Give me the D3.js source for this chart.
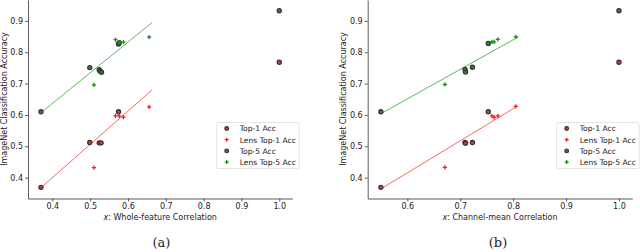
<!DOCTYPE html>
<html>
<head>
<meta charset="utf-8">
<script src="https://cdn.jsdelivr.net/npm/d3@7"></script>
<style>
  body { margin: 0; background: #fff; }
  svg { display: block; font-family: "DejaVu Sans", sans-serif; }
</style>
</head>
<body>
<script>
// panel (a): whole-feature correlation
var top1A = [[0.37, 0.369], [0.499, 0.512], [0.524, 0.511], [0.529, 0.511], [0.575, 0.610], [1.0, 0.768]];
var top5A = [[0.37, 0.610], [0.499, 0.751], [0.524, 0.744], [0.526, 0.740], [0.530, 0.736], [0.575, 0.826], [0.577, 0.830], [1.0, 0.932]];
var lens1A = [[0.510, 0.432], [0.567, 0.597], [0.577, 0.597], [0.588, 0.593], [0.656, 0.626]];
var lens5A = [[0.510, 0.696], [0.567, 0.840], [0.577, 0.831], [0.588, 0.832], [0.656, 0.848]];
var fit1A = [[0.37, 0.368], [0.663, 0.679]];
var fit5A = [[0.37, 0.607], [0.663, 0.894]];

// panel (b): channel-mean correlation
var top1B = [[0.55, 0.369], [0.709, 0.512], [0.710, 0.510], [0.723, 0.512], [0.753, 0.610], [1.0, 0.768]];
var top5B = [[0.55, 0.610], [0.709, 0.745], [0.710, 0.737], [0.723, 0.752], [0.753, 0.828], [1.0, 0.932]];
var lens1B = [[0.671, 0.433], [0.760, 0.597], [0.764, 0.592], [0.771, 0.597], [0.805, 0.627]];
var lens5B = [[0.671, 0.697], [0.760, 0.833], [0.764, 0.833], [0.771, 0.841], [0.805, 0.849]];
var fit1B = [[0.55, 0.364], [0.808, 0.628]];
var fit5B = [[0.55, 0.604], [0.810, 0.849]];

var yTicks = [0.4, 0.5, 0.6, 0.7, 0.8, 0.9];
var xTicksA = [0.4, 0.5, 0.6, 0.7, 0.8, 0.9, 1.0];
var xTicksB = [0.6, 0.7, 0.8, 0.9, 1.0];
var legendLabels = ["Top-1 Acc", "Lens Top-1 Acc", "Top-5 Acc", "Lens Top-5 Acc"];

var svg = d3.select('body').append('svg')
  .attr('width', 640).attr('height', 252);

var fontSize = 8;

var drawPanel = function(opt) {
  let x = d3.scaleLinear().domain(opt.xDomain).range([opt.left, opt.right]);
  let y = d3.scaleLinear().domain([0.3335, 0.9665]).range([198.5, 0]);
  let g = svg.append('g');

  // axes
  g.append('g')
    .attr('transform', 'translate(0,198.5)')
    .call(d3.axisBottom(x).tickValues(opt.xTicks).tickFormat(d3.format('.1f')).tickSize(3).tickPadding(2).tickSizeOuter(0));
  g.append('g')
    .attr('transform', 'translate(' + opt.left + ',0)')
    .call(d3.axisLeft(y).tickValues(yTicks).tickFormat(d3.format('.1f')).tickSize(3).tickPadding(2).tickSizeOuter(0));
  g.selectAll('.domain').attr('stroke', '#333').attr('stroke-width', 0.8);
  g.selectAll('.tick line').attr('stroke', '#333').attr('stroke-width', 0.8);
  g.selectAll('.tick text').attr('font-size', fontSize).attr('fill', '#222')
    .attr('font-family', '"DejaVu Sans", sans-serif');

  // labels
  let xl = g.append('text')
    .attr('x', (opt.left + opt.right) / 2).attr('y', 219.5)
    .attr('text-anchor', 'middle').attr('font-size', fontSize).attr('fill', '#222');
  xl.append('tspan').attr('font-style', 'italic').text('x');
  xl.append('tspan').text(': ' + opt.xLabel);

  g.append('text')
    .attr('transform', 'translate(' + opt.yLabelX + ',99) rotate(-90)')
    .attr('text-anchor', 'middle').attr('font-size', fontSize).attr('fill', '#222')
    .text('ImageNet Classification Accuracy');

  g.append('text')
    .attr('x', opt.capX).attr('y', 247)
    .attr('text-anchor', 'middle').attr('font-size', 13)
    .attr('font-family', '"DejaVu Serif", "Liberation Serif", serif')
    .attr('fill', '#222')
    .text(opt.caption);

  // fit lines
  let line = d3.line().x(d => x(d[0])).y(d => y(d[1]));
  g.append('path').datum(opt.fit1).attr('d', line)
    .attr('fill', 'none').attr('stroke', '#ff6464').attr('stroke-width', 1);
  g.append('path').datum(opt.fit5).attr('d', line)
    .attr('fill', 'none').attr('stroke', '#5cb85c').attr('stroke-width', 1);

  // circles
  let circ = function(data, face) {
    g.selectAll(null).data(data).enter().append('circle')
      .attr('cx', d => x(d[0])).attr('cy', d => y(d[1]))
      .attr('r', 2.1)
      .attr('fill', face).attr('stroke', '#333').attr('stroke-width', 1.2);
  };
  circ(opt.top1, '#c83c3c');
  circ(opt.top5, '#3c7a3c');

  // plus markers
  let plus = function(data, color) {
    g.selectAll(null).data(data).enter().append('path')
      .attr('d', d => {
        let cx = x(d[0]), cy = y(d[1]);
        return 'M' + (cx - 2.1) + ',' + cy + 'H' + (cx + 2.1) + 'M' + cx + ',' + (cy - 2.1) + 'V' + (cy + 2.1);
      })
      .attr('stroke', color).attr('stroke-width', 1.3);
  };
  plus(opt.lens1, '#ff1a1a');
  plus(opt.lens5, '#139013');

  // legend
  let lg = g.append('g').attr('transform', 'translate(' + opt.legX + ',122.5)');
  lg.append('rect').attr('width', 82.5).attr('height', 46).attr('rx', 1.5)
    .attr('fill', '#fff').attr('stroke', '#ddd').attr('stroke-width', 0.8);
  legendLabels.forEach((lab, i) => {
    let cy = 6 + i * 11.2;
    if (i % 2 === 0) {
      lg.append('circle').attr('cx', 10).attr('cy', cy).attr('r', 1.9)
        .attr('fill', i === 0 ? '#c83c3c' : '#3c7a3c')
        .attr('stroke', '#333').attr('stroke-width', 1.1);
    } else {
      lg.append('path')
        .attr('d', 'M8,' + cy + 'H12M10,' + (cy - 2) + 'V' + (cy + 2))
        .attr('stroke', i === 1 ? '#ff1a1a' : '#139013').attr('stroke-width', 1.3);
    }
    lg.append('text').attr('x', 23).attr('y', cy + 2.8)
      .attr('font-size', 7.6).attr('fill', '#222').text(lab);
  });
};

drawPanel({
  left: 28, right: 292.3, xDomain: [0.3357, 1.0344], xTicks: xTicksA,
  xLabel: 'Whole-feature Correlation', yLabelX: 6.5, capX: 161.5, caption: '(a)',
  top1: top1A, top5: top5A, lens1: lens1A, lens5: lens5A, fit1: fit1A, fit5: fit5A,
  legX: 216.7
});
drawPanel({
  left: 367.7, right: 632.3, xDomain: [0.5251, 1.0252], xTicks: xTicksB,
  xLabel: 'Channel-mean Correlation', yLabelX: 345.5, capX: 498, caption: '(b)',
  top1: top1B, top5: top5B, lens1: lens1B, lens5: lens5B, fit1: fit1B, fit5: fit5B,
  legX: 556.7
});
</script>
</body>
</html>
